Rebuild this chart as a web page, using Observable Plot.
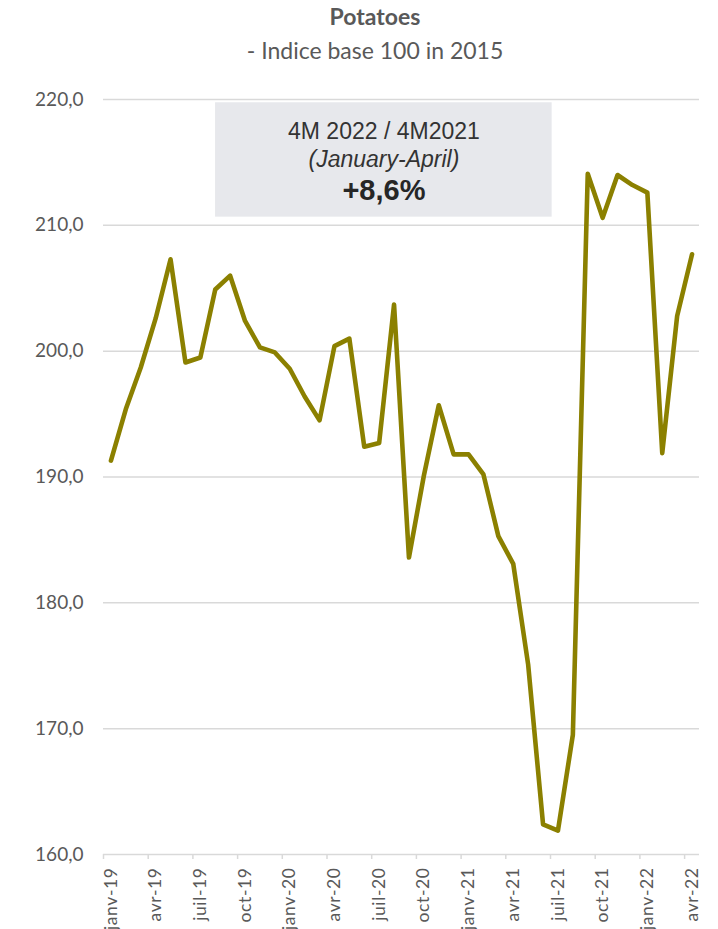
<!DOCTYPE html>
<html><head><meta charset="utf-8">
<script src="https://cdn.jsdelivr.net/npm/d3@7"></script>
<script src="https://cdn.jsdelivr.net/npm/@observablehq/plot@0.6"></script>
<style>
body{margin:0;background:#fff;width:718px;height:929px;overflow:hidden;}
#head{position:relative;height:80px;font-family:Lato,"Open Sans",sans-serif;color:#595959;}
#head .t{position:absolute;left:0;width:750px;top:5px;text-align:center;font-weight:bold;font-size:23px;line-height:23px;white-space:nowrap;}
#head .s{position:absolute;left:0;width:750px;top:39px;text-align:center;font-size:23px;line-height:23px;white-space:nowrap;}
g[aria-label="x-axis tick label"] text{letter-spacing:0.6px;}
</style></head><body>
<div id="head"><div class="t">Potatoes</div><div class="s">- Indice base 100 in 2015</div></div>
<div id="chart"></div>
<script>
const months = ["janv-19","févr-19","mars-19","avr-19","mai-19","juin-19","juil-19","août-19","sept-19","oct-19","nov-19","déc-19",
"janv-20","févr-20","mars-20","avr-20","mai-20","juin-20","juil-20","août-20","sept-20","oct-20","nov-20","déc-20",
"janv-21","févr-21","mars-21","avr-21","mai-21","juin-21","juil-21","août-21","sept-21","oct-21","nov-21","déc-21",
"janv-22","févr-22","mars-22","avr-22"];
const values = [191.3,195.4,198.7,202.6,207.3,199.1,199.5,204.9,206.0,202.4,200.3,199.9,
198.6,196.4,194.5,200.4,201.0,192.4,192.7,203.7,183.6,190.1,195.7,191.8,
191.8,190.2,185.3,183.1,175.1,162.4,161.9,169.5,214.1,210.6,214.0,213.2,
212.6,191.9,202.8,207.7];
const tickLabels = ["janv-19","avr-19","juil-19","oct-19","janv-20","avr-20","juil-20","oct-20","janv-21","avr-21","juil-21","oct-21","janv-22","avr-22"];
const yTicks = [160,170,180,190,200,210,220];
const boxLines = ["4M 2022 / 4M2021","(January-April)","+8,6%"];

const data = months.map((m,i)=>({i, m, v: values[i]}));
const tickIdx = tickLabels.map(l => months.indexOf(l));
const tickBounds = tickIdx.map(i => i - 0.5);
const fmt = d3.format(".1f");

const chart = Plot.plot({
  width: 718,
  height: 849,
  marginTop: 19,
  marginBottom: 75,
  marginLeft: 103,
  marginRight: 19,
  style: {fontFamily: "Lato, 'Open Sans', sans-serif", color: "#595959", background: "#fff"},
  x: {domain: [-0.5, 39.5], axis: null, label: null},
  y: {domain: [160, 220], axis: null, label: null},
  marks: [
    Plot.ruleY(yTicks, {stroke: "#d9d9d9", strokeWidth: 1.5}),
    Plot.axisY(yTicks, {tickSize: 0, tickPadding: 20, fontSize: 19, fill: "#595959", label: null, tickFormat: d => fmt(d).replace(".", ",")}),
    Plot.axisX(tickBounds, {tickSize: 5, stroke: "#d9d9d9", strokeWidth: 1.5, label: null, tickFormat: () => ""}),
    Plot.axisX(tickIdx, {tickSize: 0, tickRotate: -90, tickPadding: 13, fontSize: 17.5, fill: "#595959", label: null, tickFormat: d => months[d]}),
    Plot.rect([0], {x1: () => 7.02, x2: () => 29.61, y1: () => 210.65, y2: () => 219.74, fill: "#e7e8ec"}),
    Plot.lineY(data, {x: "i", y: "v", stroke: "#8b8000", strokeWidth: 4.6, strokeLinejoin: "round", strokeLinecap: "round"}),
    Plot.text([boxLines[0]], {x: () => 18.32, y: () => 216.9, text: d => d, lineAnchor: "bottom", fontFamily: "'Liberation Sans', Arial, sans-serif", fontSize: 23, fill: "#333333"}),
    Plot.text([boxLines[1]], {x: () => 18.32, y: () => 214.62, text: d => d, lineAnchor: "bottom", fontFamily: "'Liberation Sans', Arial, sans-serif", fontSize: 23, fontStyle: "italic", fill: "#333333"}),
    Plot.text([boxLines[2]], {x: () => 18.32, y: () => 212.0, text: d => d, lineAnchor: "bottom", fontFamily: "'Liberation Sans', Arial, sans-serif", fontSize: 29, fontWeight: "bold", fill: "#262626"})
  ]
});
document.getElementById("chart").appendChild(chart);
</script>
</body></html>
